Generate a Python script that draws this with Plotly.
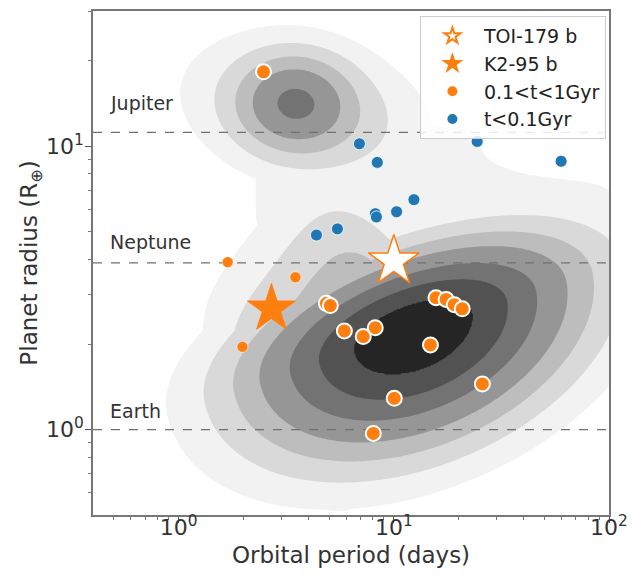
import numpy as np
import plotly.graph_objects as go

# ---------------- data ----------------
# planets aged 0.1-1 Gyr (orange)
mid_period = [2.48, 1.69, 3.49, 4.86, 5.07, 1.98, 5.89, 7.21, 8.20, 14.8, 15.7, 17.5, 19.1, 20.8, 25.8, 10.05, 8.03]
mid_radius = [18.3, 3.90, 3.45, 2.79, 2.74, 1.96, 2.23, 2.13, 2.29, 1.99, 2.92, 2.88, 2.76, 2.67, 1.45, 1.29, 0.97]
mid_edged  = [1, 0, 0, 1, 1, 0, 1, 1, 1, 1, 1, 1, 1, 1, 1, 1, 1]

# planets younger than 0.1 Gyr (blue)
young_period = [6.92, 8.38, 12.4, 8.2, 8.3, 10.3, 4.37, 5.47, 24.4, 59.9]
young_radius = [10.2, 8.77, 6.48, 5.78, 5.63, 5.87, 4.86, 5.11, 10.4, 8.85]

# highlighted planets
toi_period, toi_radius = [10.0], [3.93]
k2_period, k2_radius = [2.70], [2.67]

# reference radii (Earth radii)
ref_names = ["Jupiter", "Neptune", "Earth"]
ref_radius = [11.2, 3.88, 1.0]
ref_label_y = [14.2, 4.6, 1.16]

# ------- background population density in (log P, log R) -------
# sub-Neptune core: centre, tilt (deg), widths along / above / below the ridge
core_centre = [1.09, 0.345]
core_tilt_deg = 14.0
core_widths = [0.50, 0.172, 0.244]
# upper-left flank of the sub-Neptune blob (diagonal ridge)
flank_weight = 0.30
flank_offset = -0.2825
flank_width = 0.301
flank_mid, flank_len = 0.72, 0.40
# hot-Jupiter core and halo
jup_logp = [0.54, 0.60]
jup_logr = [1.155, 1.12]
jup_sp = [0.17, 0.38]
jup_sr = [0.11, 0.18]
jup_rho = [0.0, -0.25]
jup_w = [0.35, 0.20]
# sparse sub-Saturn bridge and its empty pocket
bridge_centre = [1.2, 0.83]
bridge_widths = [0.85, 0.25]
bridge_weight = 0.10
pocket_centre = [1.78, 0.98]
pocket_widths = [0.28, 0.07]
pocket_depth = 0.8

density_levels = [0.0617, 0.135, 0.228, 0.340, 0.499, 0.667, 0.850]
level_colors = ["#ffffff", "#f2f2f2", "#d9d9d9", "#bdbdbd", "#969696", "#737373", "#525252", "#252525"]

ORANGE = "#ff7f0e"
BLUE = "#1f77b4"

# ---------------- density grid ----------------
u = np.linspace(np.log10(0.4) - 0.05, 2.05, 400)
v = np.linspace(np.log10(0.5) - 0.05, np.log10(30) + 0.05, 400)
U, V = np.meshgrid(u, v)

th = np.deg2rad(core_tilt_deg)
du, dv = U - core_centre[0], V - core_centre[1]
a = du * np.cos(th) + dv * np.sin(th)
b = -du * np.sin(th) + dv * np.cos(th)
sb = np.where(b > 0, core_widths[1], core_widths[2])
core = np.exp(-0.5 * ((a / core_widths[0]) ** 2 + (b / sb) ** 2))

nrm = (V - U) / np.sqrt(2)
along = (U + V) / np.sqrt(2)
flank = flank_weight * np.exp(-0.5 * ((nrm - flank_offset) / flank_width) ** 2) \
    * np.exp(-0.5 * np.abs((along - flank_mid) / flank_len) ** 4)

jup = np.zeros_like(U)
for cu, cv, su, sv, r, w in zip(jup_logp, jup_logr, jup_sp, jup_sr, jup_rho, jup_w):
    x1 = (U - cu) / su
    y1 = (V - cv) / sv
    q = (x1 * x1 - 2 * r * x1 * y1 + y1 * y1) / (1 - r * r)
    jup += w * np.exp(-0.5 * q)

bx = (U - bridge_centre[0]) / bridge_widths[0]
by = (V - bridge_centre[1]) / bridge_widths[1]
pocket = 1 - pocket_depth * np.exp(-0.5 * (((U - pocket_centre[0]) / pocket_widths[0]) ** 2
                                          + ((V - pocket_centre[1]) / pocket_widths[1]) ** 2))
bridge = bridge_weight * np.exp(-0.5 * (bx ** 4 + by ** 4)) * pocket

dens = np.maximum.reduce([core, flank, jup, bridge])
xp = [0.0] + density_levels + [10.0]
fp = list(range(len(xp)))
zt = np.interp(dens, xp, fp)

# band k (between level k and k+1) is painted with colour k
n_bands = len(level_colors) - 1
cscale = [[k / n_bands, c] for k, c in enumerate(level_colors)]

fig = go.Figure()
fig.add_trace(go.Contour(
    x=10 ** u, y=10 ** v, z=zt,
    contours=dict(start=1, end=len(density_levels), size=1, coloring="fill"),
    colorscale=cscale, showscale=False, line=dict(width=0),
    hoverinfo="skip", showlegend=False,
))

for rr in ref_radius:
    fig.add_trace(go.Scatter(x=[0.4, 100], y=[rr, rr], mode="lines",
                             line=dict(color="#707070", width=1.2, dash="dash"),
                             showlegend=False, hoverinfo="skip"))

fig.add_trace(go.Scatter(
    x=toi_period, y=toi_radius, mode="markers", name="TOI-179 b",
    marker=dict(symbol="star", size=38, color="white", opacity=1, line=dict(color=ORANGE, width=1.5)),
))
fig.add_trace(go.Scatter(
    x=k2_period, y=k2_radius, mode="markers", name="K2-95 b",
    marker=dict(symbol="star", size=36, color=ORANGE, opacity=1, line=dict(color=ORANGE, width=1)),
))
fig.add_trace(go.Scatter(
    x=mid_period, y=mid_radius, mode="markers", name="0.1<t<1Gyr",
    marker=dict(color=ORANGE, opacity=1, size=[15 if e else 11 for e in mid_edged],
                line=dict(color="white", width=[2 if e else 0.5 for e in mid_edged])),
))
fig.add_trace(go.Scatter(
    x=young_period, y=young_radius, mode="markers", name="t<0.1Gyr",
    marker=dict(color=BLUE, size=12, opacity=1, line=dict(color="white", width=0.8)),
))

for name, ly in zip(ref_names, ref_label_y):
    fig.add_annotation(x=np.log10(0.47), y=np.log10(ly), text=name, showarrow=False,
                       xanchor="left", yanchor="middle",
                       font=dict(family="DejaVu Sans", size=19, color="#333333"))

axis_common = dict(
    type="log", showgrid=False, zeroline=False, showline=True, mirror=True, automargin=False,
    linecolor="#777777", linewidth=1.5, ticks="outside", ticklen=6, tickwidth=1.3,
    tickcolor="#555555", tickfont=dict(family="DejaVu Sans", size=22, color="#333333"),
)
fig.update_xaxes(
    **axis_common, range=[np.log10(0.4), 2], ticklabelstandoff=-14,
    tickvals=[1, 10, 100], ticktext=["10<sup>0</sup>", "10<sup>1</sup>", "10<sup>2</sup>"],
    minor=dict(tickmode="array", tickvals=[0.5, 0.6, 0.7, 0.8, 0.9] + list(range(2, 10)) + list(range(20, 100, 10)),
               ticks="outside", ticklen=3.5, tickcolor="#777777", showgrid=False),
    title=dict(text="Orbital period (days)", font=dict(family="DejaVu Sans", size=23, color="#333333"), standoff=8),
)
fig.update_yaxes(
    **axis_common, range=[np.log10(0.5), np.log10(30)], ticklabelstandoff=-3,
    tickvals=[1, 10], ticktext=["10<sup>0</sup>", "10<sup>1</sup>"],
    minor=dict(tickmode="array", tickvals=[0.6, 0.7, 0.8, 0.9] + list(range(2, 10)) + [20, 30],
               ticks="outside", ticklen=3.5, tickcolor="#777777", showgrid=False),
    title=dict(text="Planet radius (R<sub>⊕</sub>)", font=dict(family="DejaVu Sans", size=23, color="#333333"), standoff=2),
)
fig.update_layout(
    width=635, height=576, margin=dict(l=93, r=26, t=11, b=61),
    paper_bgcolor="white", plot_bgcolor="white",
    legend=dict(x=0.994, y=0.99, xanchor="right", yanchor="top",
                bgcolor="rgba(255,255,255,0.85)", bordercolor="#cccccc", borderwidth=1,
                font=dict(family="DejaVu Sans", size=19, color="#222222"),
                itemsizing="constant", itemwidth=53, tracegroupgap=0),
)
fig.write_html("out.html", config={"displayModeBar": False},
               post_script="document.body.style.margin='0px';document.body.style.padding='0px';")
